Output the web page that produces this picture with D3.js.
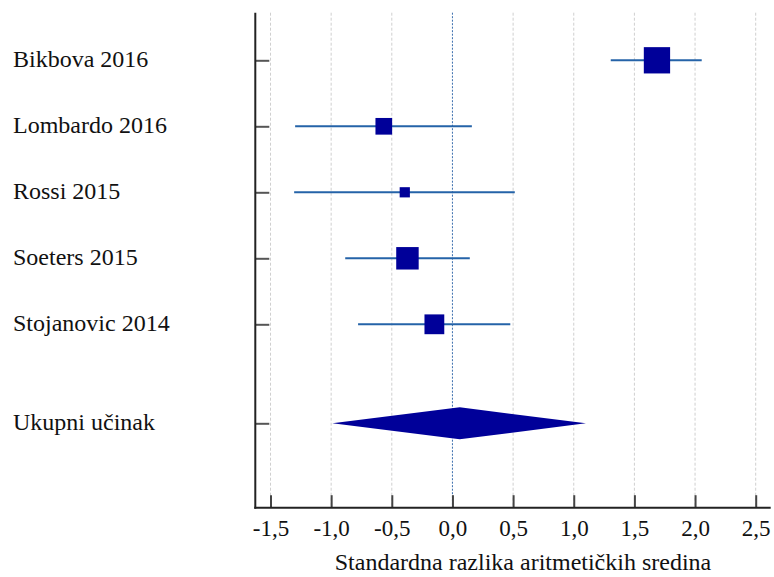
<!DOCTYPE html>
<html>
<head>
<meta charset="utf-8">
<script src="https://cdn.jsdelivr.net/npm/d3@7"></script>
<style>
  body { margin: 0; background: #fff; }
  text { font-family: "Liberation Serif", "Times New Roman", serif; fill: #111; }
</style>
</head>
<body>
<svg class="chart"></svg>
<script>
// -------------------- Data --------------------
var studies = ["Bikbova 2016", "Lombardo 2016", "Rossi 2015", "Soeters 2015", "Stojanovic 2014"];
var smd     = [1.686, -0.566, -0.393, -0.371, -0.149];
var ciLow   = [1.305, -1.297, -1.305, -0.884, -0.778];
var ciHigh  = [2.055,  0.160,  0.514,  0.143,  0.477];
var weights = [35.1, 14.1, 5.3, 25.6, 19.9];   // % weight, drives square size

var pooledLabel = "Ukupni učinak";
var pooled = [-0.99, 0.06, 1.10];               // low, estimate, high

var xTicks = [-1.5, -1.0, -0.5, 0.0, 0.5, 1.0, 1.5, 2.0, 2.5];
var xTitle = "Standardna razlika aritmetičkih sredina";

// -------------------- Settings --------------------
var W = 774, H = 577;
var axisX = 255.3, axisY = 507.7, plotTop = 12.7, plotRight = 770.7;

var svg = d3.select(".chart").attr("width", W).attr("height", H);

// -------------------- Scales --------------------
var x = d3.scaleLinear().domain([-1.5, 2.5]).range([270.5, 755.7]);
// row index -> pixel; pooled row sits a half-row further down
var y = d3.scaleLinear().domain([0, 5.5]).range([60.3, 423.3]);
var size = d3.scaleSqrt().domain([0, d3.max(weights)]).range([0, 26.3]);

var rows = studies.map(function(s, i) {
  return {name: s, est: smd[i], lo: ciLow[i], hi: ciHigh[i], w: weights[i], pos: i};
});
var pooledPos = studies.length + 0.5;

// -------------------- Grid --------------------
svg.append("g").selectAll("line")
  .data(xTicks)
  .enter().append("line")
    .attr("x1", function(d) { return x(d); })
    .attr("x2", function(d) { return x(d); })
    .attr("y1", plotTop)
    .attr("y2", axisY)
    .attr("stroke", function(d) { return d === 0 ? "#3b6fae" : "#cfcfcf"; })
    .attr("stroke-width", 1)
    .attr("stroke-dasharray", function(d) { return d === 0 ? "2,1.5" : "3,2"; });

// -------------------- Axes --------------------
var fmt = function(d) { return d.toFixed(1).replace(".", ","); };

var xAxis = d3.axisBottom(x)
  .tickValues(xTicks)
  .tickFormat(fmt)
  .tickSizeInner(-12.5)
  .tickSizeOuter(0)
  .tickPadding(11.7);

var gx = svg.append("g")
  .attr("transform", "translate(0," + axisY + ")")
  .call(xAxis);
gx.select(".domain").remove();
gx.selectAll(".tick line").attr("stroke", "#444").attr("stroke-width", 2);
gx.selectAll(".tick text")
  .style("font-family", "'Liberation Serif', serif")
  .style("font-size", "23px")
  .attr("fill", "#111");

var yAxis = d3.axisLeft(y)
  .tickValues(rows.map(function(d) { return d.pos; }).concat([pooledPos]))
  .tickFormat("")
  .tickSizeInner(-14)
  .tickSizeOuter(0);

var gy = svg.append("g")
  .attr("transform", "translate(" + axisX + ",0)")
  .call(yAxis);
gy.select(".domain").remove();
gy.selectAll(".tick line").attr("stroke", "#555").attr("stroke-width", 2);

// axis lines
svg.append("line")
  .attr("x1", axisX).attr("x2", axisX)
  .attr("y1", plotTop).attr("y2", axisY + 1)
  .attr("stroke", "#222").attr("stroke-width", 2);
svg.append("line")
  .attr("x1", axisX - 1).attr("x2", plotRight)
  .attr("y1", axisY).attr("y2", axisY)
  .attr("stroke", "#222").attr("stroke-width", 2);

svg.append("text")
  .attr("x", 523)
  .attr("y", 570)
  .attr("text-anchor", "middle")
  .style("font-size", "24px")
  .text(xTitle);

// -------------------- Labels --------------------
svg.append("g").selectAll("text")
  .data(rows.map(function(d) { return {name: d.name, pos: d.pos}; })
          .concat([{name: pooledLabel, pos: pooledPos}]))
  .enter().append("text")
    .attr("x", 13)
    .attr("y", function(d) { return y(d.pos) + 6.8; })
    .style("font-size", "24px")
    .text(function(d) { return d.name; });

// -------------------- Study rows --------------------
var g = svg.append("g").selectAll("g")
  .data(rows)
  .enter().append("g");

g.append("line")
  .attr("x1", function(d) { return x(d.lo); })
  .attr("x2", function(d) { return x(d.hi); })
  .attr("y1", function(d) { return y(d.pos); })
  .attr("y2", function(d) { return y(d.pos); })
  .attr("stroke", "#2563a8")
  .attr("stroke-width", 2);

g.append("rect")
  .attr("x", function(d) { return x(d.est) - size(d.w) / 2; })
  .attr("y", function(d) { return y(d.pos) - size(d.w) / 2; })
  .attr("width", function(d) { return size(d.w); })
  .attr("height", function(d) { return size(d.w); })
  .attr("fill", "#000099");

// -------------------- Pooled diamond --------------------
var py = y(pooledPos), half = 16;
svg.append("path")
  .attr("d", "M" + x(pooled[0]) + "," + py +
             "L" + x(pooled[1]) + "," + (py - half) +
             "L" + x(pooled[2]) + "," + py +
             "L" + x(pooled[1]) + "," + (py + half) + "Z")
  .attr("fill", "#000099");
</script>
</body>
</html>
